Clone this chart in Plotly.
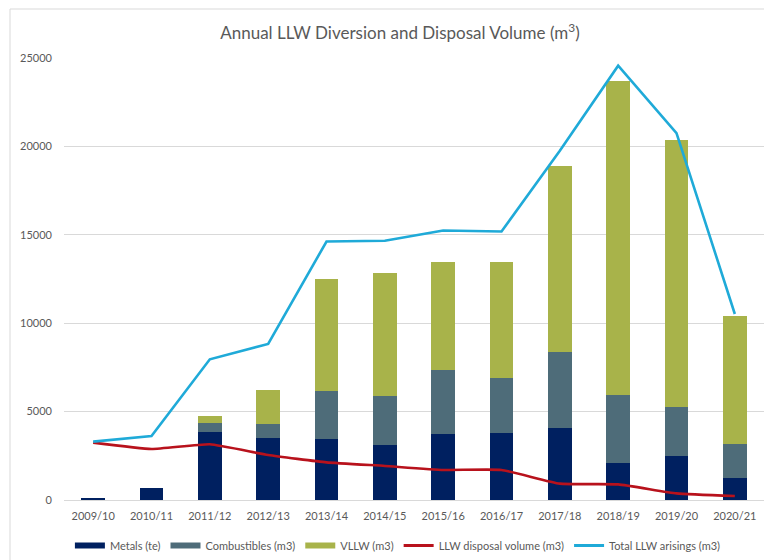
import plotly.graph_objects as go

# Financial years
years = ["2009/10", "2010/11", "2011/12", "2012/13", "2013/14", "2014/15",
         "2015/16", "2016/17", "2017/18", "2018/19", "2019/20", "2020/21"]

# Diverted waste streams (stacked)
metals_te = [100, 700, 3870, 3510, 3435, 3115, 3715, 3810, 4095, 2075, 2510, 1225]
combustibles_m3 = [0, 0, 505, 775, 2745, 2775, 3645, 3115, 4265, 3870, 2735, 1925]
vllw_m3 = [0, 0, 375, 1945, 6310, 6940, 6130, 6525, 10505, 17730, 15130, 7265]

# Line series
llw_disposal_m3 = [3245, 2885, 3150, 2545, 2130, 1925, 1700, 1700, 925, 885, 375, 225]
total_llw_arisings_m3 = [3300, 3620, 7960, 8830, 14620, 14660, 15240, 15190,
                         19750, 24565, 20755, 10520]

y_ticks = [0, 5000, 10000, 15000, 20000, 25000]
y_tick_labels = ["0", "5000", "10000", "15000", "20000", "25000"]

C_METALS = "#002060"
C_COMB = "#4E6C79"
C_VLLW = "#A8B34A"
C_RED = "#B8121C"
C_BLUE = "#1FAAD8"
GREY_TXT = "#595959"
GRID = "#D9D9D9"
FONT = "Lato"

fig = go.Figure()

bars = [
    ("Metals (te)", metals_te, C_METALS),
    ("Combustibles (m3)", combustibles_m3, C_COMB),
    ("VLLW (m3)", vllw_m3, C_VLLW),
]
for name, vals, col in bars:
    fig.add_trace(go.Bar(x=years, y=vals, name=name, marker_color=col,
                         marker_line_width=0, showlegend=False))

fig.add_trace(go.Scatter(x=years, y=llw_disposal_m3, mode="lines",
                         name="LLW disposal volume (m3)", showlegend=False,
                         line=dict(color=C_RED, width=2.6, shape="spline", smoothing=0.4)))
fig.add_trace(go.Scatter(x=years, y=total_llw_arisings_m3, mode="lines",
                         name="Total LLW arisings (m3)", showlegend=False,
                         line=dict(color=C_BLUE, width=2.6)))

# Legend entries drawn as flat swatches
legend_items = [(n, c, 6) for n, _, c in bars] + [
    ("LLW disposal volume (m3)", C_RED, 3),
    ("Total LLW arisings (m3)", C_BLUE, 3),
]
for name, col, w in legend_items:
    fig.add_trace(go.Scatter(x=[None], y=[None], mode="lines", name=name,
                             line=dict(color=col, width=w), showlegend=True))

fig.update_layout(
    width=764, height=560,
    margin=dict(l=64, r=0, t=58, b=60),
    paper_bgcolor="white", plot_bgcolor="white",
    barmode="stack", bargap=0.59,
    font=dict(family=FONT, size=10, color=GREY_TXT),
    title=dict(text="Annual LLW Diversion and Disposal Volume (m<sup>3</sup>)",
               x=400 / 764, xref="container", xanchor="center",
               y=1 - 33 / 560, yref="container", yanchor="middle",
               font=dict(family=FONT, size=17, color=GREY_TXT)),
    legend=dict(orientation="h", x=0.477, xanchor="center", y=-0.104, yanchor="middle",
                font=dict(family=FONT, size=11, color=GREY_TXT),
                traceorder="normal", itemwidth=30, tracegroupgap=0,
                bgcolor="rgba(0,0,0,0)"),
    showlegend=True,
    shapes=[dict(type="rect", xref="paper", yref="paper",
                 x0=(10 - 64) / 700, x1=1.05, y0=-0.3, y1=(500 - 9) / 442,
                 line=dict(color=GRID, width=1), fillcolor="rgba(0,0,0,0)", layer="below")],
)

fig.update_xaxes(showgrid=False, showline=True, linecolor=GRID, linewidth=1,
                 ticks="", tickfont=dict(family=FONT, size=11, color=GREY_TXT),
                 ticklabelstandoff=6, fixedrange=True)
fig.update_yaxes(range=[0, 25000], tickvals=y_ticks, ticktext=y_tick_labels,
                 showgrid=True, gridcolor=GRID,
                 gridwidth=1, zeroline=False, showline=False, ticks="",
                 tickfont=dict(family=FONT, size=11, color=GREY_TXT),
                 ticklabelstandoff=11, fixedrange=True)

fig.write_html("out.html")
